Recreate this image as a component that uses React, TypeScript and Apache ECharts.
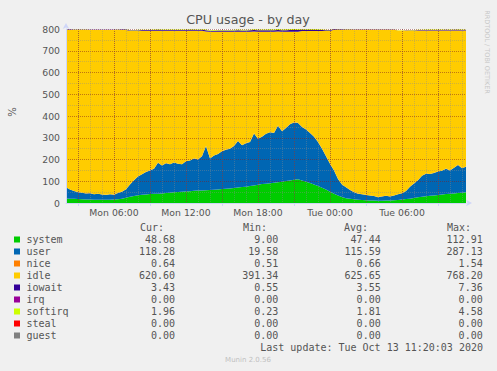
import React, { useEffect, useRef } from 'react';
import * as echarts from 'echarts';

// Time axis: Mon 02:00 to Tue 11:20, one point every 20 minutes
const START_MIN = 120;
const STEP_MIN = 20;

const system = [21,20,19,18,17,16,16,15,15,15,15,15,
  16,17,20,24,29,32,36,38,39,41,
  42,43,44,46,47,49,51,52,53,54,
  56,57,58,59,60,61,62,64,66,67,
  69,71,73,75,78,81,84,87,89,91,
  93,95,98,101,104,107,109,
  104,98,92,85,78,70,62,52,43,35,
  28,22,19,17,15,14,13,12,11,10,
  10,11,12,13,14,16,18,20,23,26,
  29,31,33,35,37,39,41,43,44,46,
  47,49];

const user = [51,42,36,32,30,28,29,25,27,24,
  22,25,22,29,32,39,56,73,86,94,
  104,109,116,142,128,137,131,137,129,126,
  139,141,149,143,157,203,145,157,163,174,
  179,183,193,214,192,200,202,239,211,218,
  229,234,229,260,232,244,258,263,259,246,
  240,230,220,202,180,153,128,107,75,57,
  50,41,33,28,26,24,22,21,17,20,
  22,18,21,26,29,37,55,67,79,96,
  104,100,103,108,109,117,107,118,129,113,
  118];

const nice = [0.6,0.6,0.55,0.6,0.52,0.58,0.6,0.55,0.51,0.6,0.57,0.6,0.55,0.6,0.62,0.6,
  0.65,0.6,0.7,0.62,0.66,0.6,0.68,0.9,0.65,0.7,0.62,0.66,0.7,0.64,0.66,0.7,0.68,0.64,0.72,
  1.54,0.7,0.68,0.72,0.7,0.66,0.7,0.74,0.9,0.7,0.72,0.68,1.1,0.74,0.7,0.76,0.72,0.7,0.95,0.72,0.74,0.78,0.8,0.74,
  0.72,0.7,0.68,0.66,0.64,0.66,0.62,0.6,0.62,0.6,0.58,0.6,0.56,0.6,0.55,0.58,0.6,0.55,0.57,0.6,
  0.56,0.6,0.58,0.6,0.62,0.6,0.62,0.64,0.6,0.62,0.66,0.6,0.62,0.64,0.62,0.6,0.66,0.62,0.64,0.6,
  0.66,0.64];

const idle = [723,733,740,745,748,751,750,755,753,756,
  758,755,757,749,743,732,
  706,686,669,659,648,641,633,606,619,608,
  613,605,611,613,599,596,586,591,576,
  525,582,569,562,549,542,537,525,502,522,
  512,507,467,492,482,469,462,465,432,457,
  442,425,417,419,
  440,452,468,485,510,540,575,610,
  646,686,711,724,736,746,753,756,759,762,
  764,769,766,763,766,762,
  752,747,737,717,702,687,667,657,659,654,
  647,644,634,642,630,617,632,625];

const iowait = [2.1,1.8,1.5,1.4,1.2,1.3,1.1,1.0,1.2,0.9,0.8,1.0,0.9,1.3,1.6,2.0,
  2.4,2.8,3.1,3.3,3.6,3.4,3.8,4.5,3.9,4.1,3.7,4.3,4.0,3.8,4.2,4.4,4.6,4.1,4.8,
  6.2,4.5,4.7,4.9,5.1,5.0,5.3,5.6,6.4,5.5,5.8,6.0,7.1,6.2,6.5,6.8,6.9,6.6,7.3,6.7,7.0,7.2,7.36,7.1,
  6.8,6.4,6.1,5.7,5.2,4.6,4.0,3.5,2.9,2.3,1.9,1.6,1.3,1.1,0.9,0.8,0.7,0.7,0.6,0.55,
  0.6,0.7,0.6,0.7,0.9,1.0,1.3,1.7,2.0,2.4,2.8,3.0,2.9,3.1,3.2,3.3,3.5,3.3,3.4,3.6,
  3.3,3.43];

const softirq = [1.0,0.8,0.7,0.6,0.5,0.5,0.4,0.4,0.4,0.3,0.3,0.4,0.3,0.5,0.6,0.8,
  1.1,1.3,1.5,1.6,1.7,1.8,1.9,2.3,2.0,2.1,2.0,2.2,2.1,2.0,2.2,2.3,2.4,2.3,2.5,
  3.3,2.4,2.5,2.6,2.7,2.7,2.8,2.9,3.3,2.9,3.0,3.1,3.8,3.3,3.5,3.6,3.7,3.6,4.2,3.7,3.9,4.1,4.58,4.3,
  4.0,3.8,3.6,3.3,3.0,2.6,2.2,1.8,1.5,1.1,0.9,0.7,0.6,0.5,0.4,0.4,0.3,0.3,0.3,0.23,
  0.3,0.3,0.3,0.4,0.5,0.6,0.8,1.0,1.2,1.4,1.6,1.7,1.7,1.8,1.8,1.9,2.0,1.9,2.0,2.1,
  1.9,1.96];

const legendNames = ['system','user','nice','idle','iowait','irq','softirq','steal','guest'];
const legendColors = ['#00cc00','#0066b3','#ff8000','#ffcc00','#330099','#990099','#ccff00','#ff0000','#808080'];
const curVals = ['48.68','118.28','0.64','620.60','3.43','0.00','1.96','0.00','0.00'];
const minVals = ['9.00','19.58','0.51','391.34','0.55','0.00','0.23','0.00','0.00'];
const avgVals = ['47.44','115.59','0.66','625.65','3.55','0.00','1.81','0.00','0.00'];
const maxVals = ['112.91','287.13','1.54','768.20','7.36','0.00','4.58','0.00','0.00'];
const lastUpdate = 'Last update: Tue Oct 13 11:20:03 2020';

const pad = (n: number) => String(n).padStart(2, '0');
const times = system.map((_, i) => {
  const m = START_MIN + STEP_MIN * i;
  const day = m >= 1440 ? 'Tue' : 'Mon';
  const mm = m % 1440;
  return `${day} ${pad(Math.floor(mm / 60))}:${pad(mm % 60)}`;
});
const isAt = (v: string, hours: number[]) => {
  const h = parseInt(v.slice(4, 6), 10);
  return v.slice(7) === '00' && hours.indexOf(h) >= 0;
};

const TXT = '#555555';
const MONO = '"DejaVu Sans Mono", monospace';
const SANS = '"DejaVu Sans", sans-serif';

export default function App() {
  const ref = useRef<HTMLDivElement>(null);
  useEffect(() => {
    if (!ref.current) return;
    const chart = echarts.init(ref.current, null, { renderer: 'svg' });
    const stackSeries = [
      { name: 'system', data: system, color: legendColors[0] },
      { name: 'user', data: user, color: legendColors[1] },
      { name: 'nice', data: nice, color: legendColors[2] },
      { name: 'idle', data: idle, color: legendColors[3] },
      { name: 'iowait', data: iowait, color: legendColors[4] },
      { name: 'softirq', data: softirq, color: legendColors[6] },
    ].map((s) => ({
      name: s.name,
      type: 'line',
      stack: 'cpu',
      data: s.data,
      symbol: 'none',
      showSymbol: false,
      sampling: undefined,
      lineStyle: { width: 0 },
      areaStyle: { color: s.color, opacity: 1 },
      itemStyle: { color: s.color },
      z: 2,
    }));

    const graphic: any[] = [
      { type: 'text', x: 248, y: 19, style: { text: 'CPU usage - by day', font: `12.7px ${SANS}`, fill: TXT, textAlign: 'center', textVerticalAlign: 'middle' } },
      { type: 'text', x: 12, y: 112, rotation: Math.PI / 2, style: { text: '%', font: `10px ${SANS}`, fill: TXT, textAlign: 'center', textVerticalAlign: 'middle' } },
      { type: 'text', x: 487, y: 52, rotation: -Math.PI / 2, style: { text: 'RRDTOOL / TOBI OETIKER', font: `6.5px ${SANS}`, fill: '#c8c8c8', textAlign: 'center', textVerticalAlign: 'middle' } },
      { type: 'text', x: 140, y: 227, style: { text: 'Cur:', font: `10px ${MONO}`, fill: TXT, textAlign: 'left', textVerticalAlign: 'middle' } },
      { type: 'text', x: 243, y: 227, style: { text: 'Min:', font: `10px ${MONO}`, fill: TXT, textAlign: 'left', textVerticalAlign: 'middle' } },
      { type: 'text', x: 344, y: 227, style: { text: 'Avg:', font: `10px ${MONO}`, fill: TXT, textAlign: 'left', textVerticalAlign: 'middle' } },
      { type: 'text', x: 447, y: 227, style: { text: 'Max:', font: `10px ${MONO}`, fill: TXT, textAlign: 'left', textVerticalAlign: 'middle' } },
      { type: 'text', x: 483, y: 347.7, style: { text: lastUpdate, font: `10px ${MONO}`, fill: TXT, textAlign: 'right', textVerticalAlign: 'middle' } },
      { type: 'text', x: 248, y: 360, style: { text: 'Munin 2.0.56', font: `7px ${SANS}`, fill: '#c0c0c0', textAlign: 'center', textVerticalAlign: 'middle' } },
    ];
    legendNames.forEach((name, i) => {
      const y = 239.5 + 12 * i;
      graphic.push({ type: 'rect', shape: { x: 14, y: y - 3, width: 6, height: 6 }, style: { fill: legendColors[i] } });
      graphic.push({ type: 'text', x: 26.5, y, style: { text: name, font: `10px ${MONO}`, fill: TXT, textAlign: 'left', textVerticalAlign: 'middle' } });
      [[curVals, 175], [minVals, 278.3], [avgVals, 380.7], [maxVals, 482.7]].forEach(([arr, x]: any) => {
        graphic.push({ type: 'text', x, y, style: { text: arr[i], font: `10px ${MONO}`, fill: TXT, textAlign: 'right', textVerticalAlign: 'middle' } });
      });
    });

    const minorGrid = { color: 'rgba(140,140,140,0.40)', width: 1, type: [1, 1] };
    const majorGrid = { color: 'rgba(130,30,30,0.50)', width: 1, type: [1, 1] };

    chart.setOption({
      animation: false,
      backgroundColor: '#f0f0f0',
      grid: { left: 66, top: 29, width: 400, height: 174, show: true, backgroundColor: '#ffffff', borderWidth: 0 },
      xAxis: [
        {
          type: 'category',
          data: times,
          boundaryGap: false,
          z: 10,
          axisLine: { show: true, lineStyle: { color: '#CFD6F8' }, symbol: ['none', 'arrow'], symbolSize: [5, 6], symbolOffset: [0, 6] },
          axisTick: { show: true, length: 3, interval: (_i: number, v: string) => isAt(v, [3, 9, 15, 21]), lineStyle: { color: '#CFD6F8' } },
          axisLabel: { show: true, interval: (_i: number, v: string) => isAt(v, [0, 6, 12, 18]), color: TXT, fontSize: 9.3, fontFamily: SANS, margin: 5 },
          splitLine: { show: true, interval: (_i: number, v: string) => v.slice(7) === '00', lineStyle: minorGrid },
        },
        {
          type: 'category',
          data: times,
          boundaryGap: false,
          z: 11,
          axisLine: { show: false },
          axisTick: { show: false },
          axisLabel: { show: false },
          splitLine: { show: true, interval: (_i: number, v: string) => isAt(v, [0, 3, 6, 9, 12, 15, 18, 21]), lineStyle: majorGrid },
        },
      ],
      yAxis: {
        type: 'value',
        min: 0,
        max: 800,
        interval: 100,
        z: 10,
        axisLine: { show: true, lineStyle: { color: '#CFD6F8' }, symbol: ['none', 'arrow'], symbolSize: [5, 6], symbolOffset: [0, 6] },
        axisTick: { show: false },
        axisLabel: { color: TXT, fontSize: 9.3, fontFamily: SANS, margin: 6 },
        splitLine: { show: true, lineStyle: majorGrid },
        minorTick: { show: false, splitNumber: 2 },
        minorSplitLine: { show: true, lineStyle: minorGrid },
      },
      series: stackSeries,
      graphic,
    });
    return () => chart.dispose();
  }, []);
  return (
    <div
      ref={ref}
      style={{ position: 'fixed', left: 0, top: 0, width: 497, height: 371, background: '#f0f0f0' }}
    />
  );
}
